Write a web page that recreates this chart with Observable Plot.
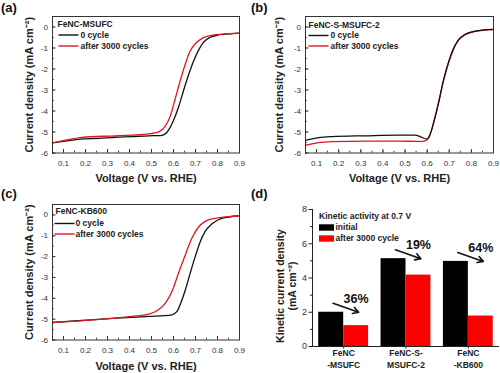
<!DOCTYPE html>
<html><head><meta charset="utf-8">
<script src="https://cdn.jsdelivr.net/npm/d3@7"></script>
<script src="https://cdn.jsdelivr.net/npm/@observablehq/plot@0.6"></script>
<style>
body{margin:0;background:#fff;}
#fig{position:relative;width:500px;height:373px;overflow:hidden;background:#fff;font-family:"Liberation Sans",Arial,Helvetica,sans-serif;}
.panel{position:absolute;}
.plabel{position:absolute;font-weight:bold;font-size:13px;line-height:13px;color:#111;}
</style></head><body><div id="fig"></div>
<script>
// ---------- data ----------
// (a) FeNC-MSUFC
const aVolt0 = [0.05,0.124,0.184,0.26,0.336,0.411,0.487,0.54,0.563,0.581,0.60,0.623,0.646,0.668,0.69,0.714,0.736,0.767,0.804,0.85,0.9];
const aCur0  = [-5.52,-5.41,-5.33,-5.30,-5.25,-5.22,-5.18,-5.17,-5.09,-4.85,-4.45,-3.81,-3.01,-2.30,-1.66,-1.10,-0.73,-0.49,-0.38,-0.33,-0.29];
const aVolt1 = [0.05,0.124,0.184,0.336,0.487,0.535,0.56,0.584,0.606,0.629,0.652,0.674,0.704,0.732,0.768,0.82,0.9];
const aCur1  = [-5.52,-5.36,-5.26,-5.18,-5.09,-4.98,-4.76,-4.29,-3.49,-2.62,-1.82,-1.18,-0.75,-0.53,-0.41,-0.34,-0.29];
// (b) FeNC-S-MSUFC-2
const bVolt0 = [0.05,0.109,0.169,0.32,0.47,0.546,0.569,0.598,0.612,0.629,0.651,0.674,0.697,0.719,0.742,0.772,0.817,0.9];
const bCur0  = [-5.40,-5.27,-5.22,-5.18,-5.15,-5.15,-5.22,-5.34,-5.15,-4.58,-3.64,-2.53,-1.66,-1.03,-0.60,-0.35,-0.20,-0.11];
const bVolt1 = [0.05,0.109,0.169,0.32,0.47,0.577,0.598,0.612,0.629,0.651,0.674,0.697,0.719,0.742,0.772,0.817,0.9];
const bCur1  = [-5.64,-5.51,-5.46,-5.43,-5.43,-5.45,-5.38,-5.15,-4.56,-3.62,-2.55,-1.70,-1.06,-0.63,-0.37,-0.21,-0.12];
// (c) FeNC-KB600
const cVolt0 = [0.05,0.184,0.336,0.487,0.593,0.616,0.63,0.654,0.676,0.699,0.722,0.744,0.774,0.804,0.85,0.9];
const cCur0  = [-5.16,-5.06,-4.95,-4.87,-4.79,-4.63,-4.31,-3.59,-2.79,-1.99,-1.27,-0.79,-0.44,-0.23,-0.10,-0.04];
const cVolt1 = [0.05,0.336,0.41,0.487,0.532,0.563,0.593,0.623,0.654,0.684,0.714,0.744,0.789,0.85,0.9];
const cCur1  = [-5.16,-4.95,-4.87,-4.76,-4.55,-4.23,-3.67,-2.79,-1.91,-1.11,-0.58,-0.31,-0.16,-0.08,-0.04];
// (d) kinetic current density at 0.7 V
const groups = ["FeNC-MSUFC","FeNC-S-MSUFC-2","FeNC-KB600"];
const groupTickLabels = ["FeNC\n-MSUFC","FeNC-S-\nMSUFC-2","FeNC\n-KB600"];
const kinInitial = [2.0, 5.13, 4.97];
const kinAfter = [1.22, 4.17, 1.78];
const lossLabels = ["36%","19%","64%"];
// ticks
const xMajor = [0.1,0.2,0.3,0.4,0.5,0.6,0.7,0.8,0.9];
const xTickLabels = ["0.1","0.2","0.3","0.4","0.5","0.6","0.7","0.8","0.9"];
const yMajor = [0,-1,-2,-3,-4,-5,-6];
const yTickLabels = ["0","-1","-2","-3","-4","-5","-6"];
const kMajor = [0,2,4,6,8];
const kTickLabels = ["0","2","4","6","8"];
// texts
const seriesNames = ["0 cycle","after 3000 cycles"];
const xTitle = "Voltage (V vs. RHE)";
const yTitle = "Current density (mA cm\u207B\u00B2)";
const kYTitle = "Kinetic current density\n(mA cm\u207B\u00B2)";
const kLegendTitle = "Kinetic activity at 0.7 V";
const kSeriesNames = ["initial","after 3000 cycle"];

// ---------- drawing ----------
const FONT = '"Liberation Sans", Arial, Helvetica, sans-serif';
const BLACK = "#111";
const RED = "#e3141f";
const lineSym = {draw(ctx){ ctx.moveTo(-10,0); ctx.lineTo(10,0); }};
const rectSym = {draw(ctx){ ctx.rect(-7.5,-3.2,15,6.4); }};
const fig = document.getElementById("fig");
const T = {textAnchor:"start", lineAnchor:"middle", fontSize:8.5, fontWeight:"bold", fill:"#222"};

function addPanel(node, left, top, label){
  const d = document.createElement("div");
  d.className = "panel"; d.style.left = left + "px"; d.style.top = top + "px";
  d.appendChild(node); fig.appendChild(d);
  const l = document.createElement("div");
  l.className = "plabel"; l.textContent = label;
  l.style.left = (left + 1) + "px"; l.style.top = (top + 1) + "px";
  fig.appendChild(l);
}

function curvePanel(o){
  const d0 = o.v0.map((v,i)=>({v, j:o.j0[i]}));
  const d1 = o.v1.map((v,i)=>({v, j:o.j1[i]}));
  const l0 = Plot.line(d0,{x:"v",y:"j",stroke:BLACK,strokeWidth:1.3,curve:"monotone-x"});
  const l1 = Plot.line(d1,{x:"v",y:"j",stroke:RED,strokeWidth:1.3,curve:"monotone-x"});
  const xMinor = d3.range(0.05,0.9001,0.05);
  const yMinor = d3.range(-6,0.501,0.5);
  return Plot.plot({
    width:250, height:o.h,
    marginLeft:o.ml, marginRight:o.mr, marginTop:o.mt, marginBottom:o.mb,
    style:{fontFamily:FONT, fontSize:"8px", color:"#222", background:"transparent", overflow:"visible"},
    x:{domain:[0.05,0.9]},
    y:{domain:[-6,0.5]},
    marks:[
      ...(o.redOnTop ? [l0,l1] : [l1,l0]),
      Plot.axisX({ticks:xMinor, tickSize:-1.8, tickFormat:()=>"", label:null, stroke:"#333"}),
      Plot.axisX({ticks:xMajor, tickSize:-3.5, tickPadding:11, tickFormat:d=>xTickLabels[xMajor.indexOf(d)], label:null, fontSize:8, fill:"#333", stroke:"#333"}),
      Plot.axisY({ticks:yMinor, tickSize:-1.8, tickFormat:()=>"", label:null, stroke:"#333"}),
      Plot.axisY({ticks:yMajor, tickSize:-3.5, tickPadding:8, tickFormat:d=>yTickLabels[yMajor.indexOf(d)], label:null, fontSize:8, fill:"#333", stroke:"#333"}),
      Plot.frame({stroke:"#333"}),
      Plot.text([xTitle],{frameAnchor:"bottom", dy:o.xtDy, textAnchor:"middle", lineAnchor:"middle", fontSize:11, fontWeight:"bold", fill:"#222"}),
      Plot.text([yTitle],{frameAnchor:"left", dx:o.ytDx, rotate:-90, textAnchor:"middle", lineAnchor:"middle", fontSize:11, fontWeight:"bold", fill:"#222"}),
      Plot.text([o.name],{frameAnchor:"top-left", dx:o.lg[0], dy:o.lg[3], ...T}),
      Plot.dot([0],{frameAnchor:"top-left", dx:o.lg[1], dy:o.lg[4], symbol:lineSym, stroke:BLACK, strokeWidth:1.4}),
      Plot.dot([1],{frameAnchor:"top-left", dx:o.lg[1], dy:o.lg[5], symbol:lineSym, stroke:RED, strokeWidth:1.4}),
      Plot.text([seriesNames[0]],{frameAnchor:"top-left", dx:o.lg[2], dy:o.lg[4], ...T}),
      Plot.text([seriesNames[1]],{frameAnchor:"top-left", dx:o.lg[2], dy:o.lg[5], ...T})
    ]
  });
}

addPanel(curvePanel({v0:aVolt0,j0:aCur0,v1:aVolt1,j1:aCur1,name:"FeNC-MSUFC",
  h:186, ml:52, mr:11, mt:16, mb:33.5, xtDy:25.5, ytDx:-23.5, redOnTop:true,
  lg:[5,16,28,8,18.5,29.5]}), 0, 0, "(a)");
addPanel(curvePanel({v0:bVolt0,j0:bCur0,v1:bVolt1,j1:bCur1,name:"FeNC-S-MSUFC-2",
  h:186, ml:55, mr:7, mt:16, mb:33.5, xtDy:25.5, ytDx:-26.5, redOnTop:false,
  lg:[3,13,25,9,19,29.5]}), 250, 0, "(b)");
addPanel(curvePanel({v0:cVolt0,j0:cCur0,v1:cVolt1,j1:cCur1,name:"FeNC-KB600",
  h:187, ml:52, mr:11, mt:18, mb:33.5, xtDy:26.5, ytDx:-23.5, redOnTop:true,
  lg:[3,12,23,7,19,29.5]}), 0, 186, "(c)");

// (d)
const kin = groups.map((g,i)=>({i, g, init:kinInitial[i], after:kinAfter[i], pct:lossLabels[i]}));
const kinPlot = Plot.plot({
  width:250, height:187, marginLeft:62, marginRight:1, marginTop:23, marginBottom:27,
  style:{fontFamily:FONT, fontSize:"9px", color:"#222", background:"transparent", overflow:"visible"},
  x:{domain:[-0.5,2.5]},
  y:{domain:[0,8]},
  marks:[
    Plot.rect(kin,{x1:d=>d.i-0.4, x2:d=>d.i, y1:0, y2:"init", fill:"#000"}),
    Plot.rect(kin,{x1:d=>d.i, x2:d=>d.i+0.4, y1:0, y2:"after", fill:"#f00"}),
    Plot.ruleY([0],{stroke:"#222"}),
    Plot.ruleX([-0.5],{stroke:"#222"}),
    Plot.axisY({ticks:d3.range(1,8,2), tickSize:2, tickFormat:()=>"", label:null, stroke:"#222"}),
    Plot.axisY({ticks:kMajor, tickSize:3.5, tickPadding:2, tickFormat:d=>kTickLabels[kMajor.indexOf(d)], label:null, fontSize:9, fill:"#333", stroke:"#222"}),
    Plot.axisX({ticks:[0,1,2], tickSize:2.5, tickPadding:-2, tickFormat:i=>groupTickLabels[i], label:null, fontSize:8.5, fontWeight:"bold", lineHeight:1.45, fill:"#222", stroke:"#222"}),
    Plot.text([kYTitle],{frameAnchor:"left", dx:-26, dy:8, rotate:-90, textAnchor:"middle", lineAnchor:"middle", fontSize:10.5, fontWeight:"bold", lineHeight:1.1, fill:"#222"}),
    Plot.arrow(kin,{x1:d=>d.i-0.17, y1:d=>d.init+0.52, x2:d=>d.i+0.24, y2:d=>d.init, stroke:"#111", strokeWidth:1.6, headLength:6}),
    Plot.text(kin,{x:d=>d.i+0.2, y:d=>d.init+0.8, text:"pct", fontSize:12.5, fontWeight:"bold", fill:"#111"}),
    Plot.text([kLegendTitle],{frameAnchor:"top-left", dx:6.5, dy:6.5, ...T}),
    Plot.dot([0],{frameAnchor:"top-left", dx:14, dy:18, symbol:rectSym, fill:"#000", stroke:"none"}),
    Plot.dot([1],{frameAnchor:"top-left", dx:14, dy:29, symbol:rectSym, fill:"#f00", stroke:"none"}),
    Plot.text([kSeriesNames[0]],{frameAnchor:"top-left", dx:23, dy:18, ...T}),
    Plot.text([kSeriesNames[1]],{frameAnchor:"top-left", dx:23, dy:29, ...T})
  ]
});
addPanel(kinPlot, 250, 186, "(d)");
</script></body></html>
